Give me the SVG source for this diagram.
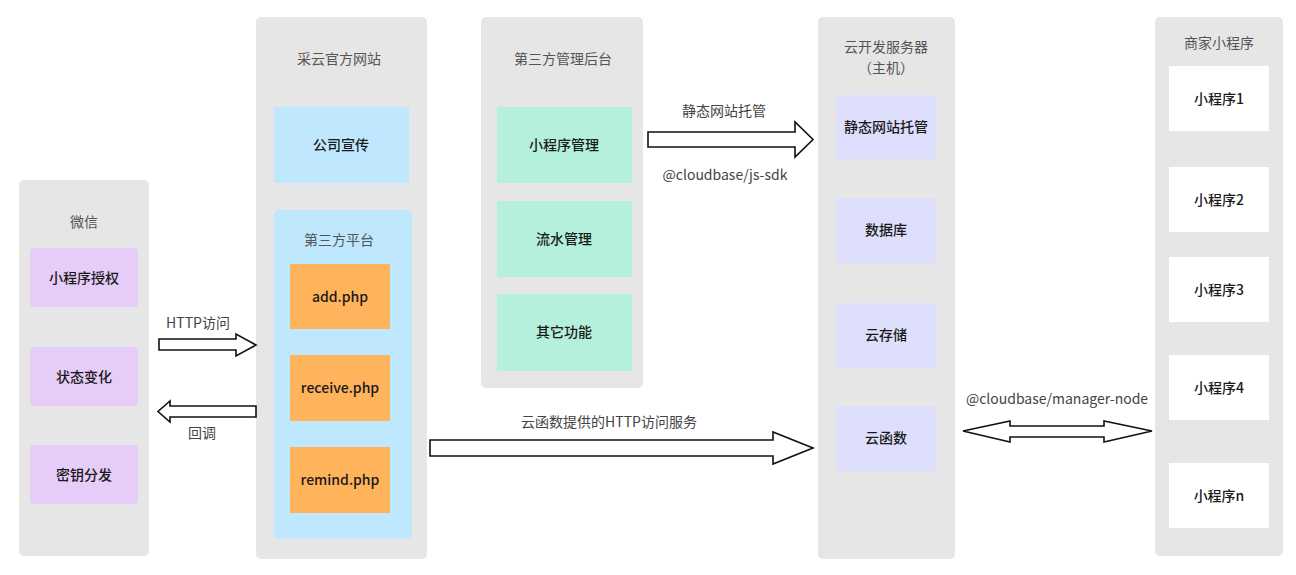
<svg xmlns="http://www.w3.org/2000/svg" width="1296" height="575" viewBox="0 0 1296 575">
<style>
.panel{fill:#e6e6e6}
.title{font-family:"Noto Sans CJK SC","Noto Sans",sans-serif;font-size:14px;fill:#555;text-anchor:middle}
.lbl{font-family:"Noto Sans CJK SC","Noto Sans",sans-serif;font-size:14px;font-weight:500;fill:#1a1a1a;text-anchor:middle}
.elbl{font-family:"Noto Sans CJK SC","Noto Sans",sans-serif;font-size:14px;fill:#444;text-anchor:middle}
.purple{fill:#e6ccf8}
.blue{fill:#bfe7fd}
.orange{fill:#ffb35a}
.green{fill:#b4f0dc}
.lav{fill:#dedefd}
.white{fill:#ffffff}
.arrow{fill:#ffffff;stroke:#111;stroke-width:1.6;stroke-linejoin:miter}
</style>
<rect width="1296" height="575" fill="#ffffff"/>

<g id="wechat">
<rect class="panel" x="19" y="180" width="130" height="376" rx="5"/>
<text class="title" x="84" y="227">微信</text>
<g id="wx-auth"><rect class="purple" x="30" y="248" width="108" height="59" rx="4"/><text class="lbl" x="84" y="283">小程序授权</text></g>
<g id="wx-state"><rect class="purple" x="30" y="347" width="108" height="59" rx="4"/><text class="lbl" x="84" y="382">状态变化</text></g>
<g id="wx-key"><rect class="purple" x="30" y="445" width="108" height="59" rx="4"/><text class="lbl" x="84" y="480">密钥分发</text></g>
</g>

<g id="caiyun">
<rect class="panel" x="256" y="17" width="171" height="542" rx="5"/>
<text class="title" x="339" y="64">采云官方网站</text>
<g id="company"><rect class="blue" x="274" y="107" width="135" height="76"/><text class="lbl" x="341" y="150">公司宣传</text></g>
<g id="platform">
<rect class="blue" x="274" y="210" width="138" height="329" rx="5"/>
<text class="title" x="339" y="245">第三方平台</text>
<g id="add"><rect class="orange" x="290" y="264" width="100" height="65"/><text class="lbl" x="340" y="302">add.php</text></g>
<g id="receive"><rect class="orange" x="290" y="355" width="100" height="66"/><text class="lbl" x="340" y="393">receive.php</text></g>
<g id="remind"><rect class="orange" x="290" y="447" width="100" height="66"/><text class="lbl" x="340" y="485">remind.php</text></g>
</g>
</g>

<g id="admin">
<rect class="panel" x="481" y="17" width="162" height="371" rx="5"/>
<text class="title" x="563" y="64">第三方管理后台</text>
<g id="mp-mgmt"><rect class="green" x="497" y="107" width="135" height="76"/><text class="lbl" x="564" y="150">小程序管理</text></g>
<g id="flow-mgmt"><rect class="green" x="497" y="201" width="135" height="76"/><text class="lbl" x="564" y="244">流水管理</text></g>
<g id="other"><rect class="green" x="497" y="294" width="135" height="77"/><text class="lbl" x="564" y="337">其它功能</text></g>
</g>

<g id="cloud">
<rect class="panel" x="818" y="17" width="137" height="542" rx="5"/>
<text class="title" x="886" y="52">云开发服务器</text>
<text class="title" x="886" y="73">（主机）</text>
<g id="static"><rect class="lav" x="836" y="95" width="100" height="64"/><text class="lbl" x="886" y="132">静态网站托管</text></g>
<g id="db"><rect class="lav" x="836" y="198" width="100" height="65"/><text class="lbl" x="886" y="235">数据库</text></g>
<g id="storage"><rect class="lav" x="836" y="303" width="100" height="65"/><text class="lbl" x="886" y="340">云存储</text></g>
<g id="func"><rect class="lav" x="836" y="406" width="100" height="65"/><text class="lbl" x="886" y="443">云函数</text></g>
</g>

<g id="merchant">
<rect class="panel" x="1155" y="17" width="128" height="539" rx="5"/>
<text class="title" x="1219" y="48">商家小程序</text>
<g id="mp1"><rect class="white" x="1169" y="66" width="100" height="65"/><text class="lbl" x="1219" y="104">小程序1</text></g>
<g id="mp2"><rect class="white" x="1169" y="167" width="100" height="65"/><text class="lbl" x="1219" y="205">小程序2</text></g>
<g id="mp3"><rect class="white" x="1169" y="257" width="100" height="65"/><text class="lbl" x="1219" y="295">小程序3</text></g>
<g id="mp4"><rect class="white" x="1169" y="355" width="100" height="65"/><text class="lbl" x="1219" y="393">小程序4</text></g>
<g id="mpn"><rect class="white" x="1169" y="463" width="100" height="65"/><text class="lbl" x="1219" y="501">小程序n</text></g>
</g>

<g id="connectors">
<polygon class="arrow" points="159,339 236,339 236,334 256,345 236,356 236,350 159,350"/>
<text class="elbl" x="198" y="328">HTTP访问</text>
<polygon class="arrow" points="256,406 170,406 170,401 158,411.5 170,422 170,417 256,417"/>
<text class="elbl" x="202" y="438">回调</text>
<polygon class="arrow" points="648,132 795,132 795,122 813,139.5 795,157 795,147 648,147"/>
<text class="elbl" x="724" y="116">静态网站托管</text>
<text class="elbl" x="725" y="180">@cloudbase/js-sdk</text>
<polygon class="arrow" points="430,440 773,440 773,432 813,448 773,464 773,456 430,456"/>
<text class="elbl" x="609" y="427">云函数提供的HTTP访问服务</text>
<polygon class="arrow" points="963,431 1010,421 1010,426 1104,426 1104,421 1152,431 1104,442 1104,437 1010,437 1010,442"/>
<text class="elbl" x="1057" y="404">@cloudbase/manager-node</text>
</g>
</svg>
